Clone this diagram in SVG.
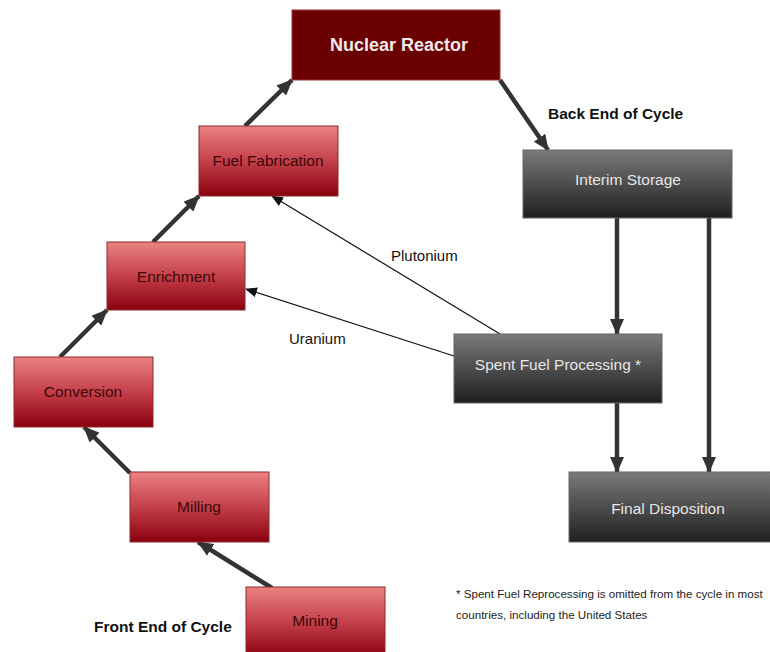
<svg xmlns="http://www.w3.org/2000/svg" width="770" height="652" viewBox="0 0 770 652">
<defs>
<linearGradient id="red" x1="0" y1="0" x2="0" y2="1">
<stop offset="0" stop-color="#ea8282"/>
<stop offset="0.5" stop-color="#c4404a"/>
<stop offset="1" stop-color="#8a0010"/>
</linearGradient>
<linearGradient id="gray" x1="0" y1="0" x2="0" y2="1">
<stop offset="0" stop-color="#7a7a7a"/>
<stop offset="1" stop-color="#1f1f1f"/>
</linearGradient>
<marker id="thick" markerUnits="userSpaceOnUse" markerWidth="16" markerHeight="14" refX="15" refY="7" orient="auto">
<path d="M0,0 L16,7 L0,14 z" fill="#333"/>
</marker>
<marker id="thin" markerUnits="userSpaceOnUse" markerWidth="12" markerHeight="10" refX="11" refY="5" orient="auto">
<path d="M0,0 L12,5 L0,10 z" fill="#111"/>
</marker>
<style>
.rn rect{fill:url(#red);stroke:#8a2a2a;stroke-width:1}
.rn text{font-family:"Liberation Sans",Arial,sans-serif;font-size:15.5px;fill:#3a0808;text-anchor:middle}
.gn rect{fill:url(#gray);stroke:#666;stroke-width:1}
.gn text{font-family:"Liberation Sans",Arial,sans-serif;font-size:15.5px;fill:#e6e6e6;text-anchor:middle}
.tk{stroke:#333;stroke-width:4.5;fill:none;marker-end:url(#thick)}
.tn{stroke:#111;stroke-width:1.2;fill:none;marker-end:url(#thin)}
.lbl{font-family:"Liberation Sans",Arial,sans-serif;font-size:15px;fill:#111}
.hd{font-family:"Liberation Sans",Arial,sans-serif;font-size:15.5px;font-weight:bold;fill:#111}
.fn{font-family:"Liberation Sans",Arial,sans-serif;font-size:11.6px;fill:#222}
</style>
</defs>
<rect width="770" height="652" fill="#fff"/>
<g id="connectors">
<line class="tk" x1="272" y1="588" x2="198" y2="542"/>
<line class="tk" x1="130" y1="473" x2="84" y2="427"/>
<line class="tk" x1="60" y1="357" x2="107" y2="310"/>
<line class="tk" x1="153" y1="242" x2="199" y2="196"/>
<line class="tk" x1="245" y1="126" x2="292" y2="80"/>
<line class="tk" x1="500" y1="80" x2="548" y2="150"/>
<line class="tk" x1="617" y1="218" x2="617" y2="334"/>
<line class="tk" x1="709" y1="218" x2="709" y2="472"/>
<line class="tk" x1="617" y1="403" x2="617" y2="472"/>
<line class="tn" x1="500" y1="334" x2="272" y2="196"/>
<line class="tn" x1="454" y1="356" x2="246" y2="289"/>
</g>
<g id="nuclear-reactor">
<rect x="292" y="10" width="208" height="70" fill="#6b0000" stroke="#9a3030" stroke-width="1"/>
<text x="399" y="51" font-family="'Liberation Sans',Arial,sans-serif" font-size="18" font-weight="bold" fill="#f2eaea" text-anchor="middle">Nuclear Reactor</text>
</g>
<g id="fuel-fabrication" class="rn">
<rect x="199" y="126" width="139" height="70"/>
<text x="268" y="166">Fuel Fabrication</text>
</g>
<g id="enrichment" class="rn">
<rect x="107" y="242" width="138" height="68"/>
<text x="176" y="282">Enrichment</text>
</g>
<g id="conversion" class="rn">
<rect x="14" y="357" width="139" height="70"/>
<text x="83" y="397">Conversion</text>
</g>
<g id="milling" class="rn">
<rect x="130" y="472" width="139" height="70"/>
<text x="199" y="512">Milling</text>
</g>
<g id="mining" class="rn">
<rect x="246" y="587" width="139" height="70"/>
<text x="315" y="626">Mining</text>
</g>
<g id="interim-storage" class="gn">
<rect x="523" y="150" width="209" height="68"/>
<text x="628" y="185">Interim Storage</text>
</g>
<g id="spent-fuel-processing" class="gn">
<rect x="454" y="334" width="208" height="69"/>
<text x="558" y="370">Spent Fuel Processing *</text>
</g>
<g id="final-disposition" class="gn">
<rect x="569" y="472" width="209" height="70"/>
<text x="668" y="514">Final Disposition</text>
</g>
<text class="lbl" x="391" y="261">Plutonium</text>
<text class="lbl" x="289" y="344">Uranium</text>
<text class="hd" x="548" y="119">Back End of Cycle</text>
<text class="hd" x="94" y="632">Front End of Cycle</text>
<text class="fn" x="456" y="598">* Spent Fuel Reprocessing is omitted from the cycle in most</text>
<text class="fn" x="456" y="619">countries, including the United States</text>
</svg>
